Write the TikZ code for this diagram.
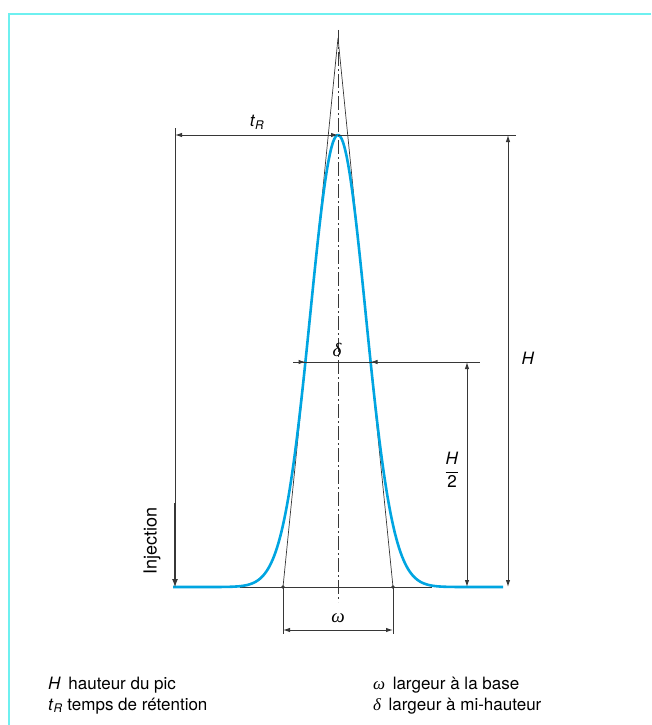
\documentclass[tikz,border=0pt]{standalone}
\usepackage{fontspec}
\setmainfont{TeX Gyre Heros}
\newfontfamily\greekfont{Liberation Serif}
\usetikzlibrary{arrows.meta}
\definecolor{peakblue}{RGB}{0,165,225}
\definecolor{framecyan}{RGB}{110,240,240}
\definecolor{dimgray}{RGB}{55,55,55}
\newcommand{\gsym}[1]{{\greekfont\itshape #1}}

\begin{document}
\begin{tikzpicture}[
        x=1pt, y=-1pt,
        % dimension lines and their tips
        dimline/.style={draw=dimgray, line width=1pt},
        dimarrow/.style={dimline, -{Latex[length=7pt,width=4.5pt]}},
        dimboth/.style={dimline, {Latex[length=7pt,width=4.5pt]}-{Latex[length=7pt,width=4.5pt]}},
        axisline/.style={draw=dimgray, line width=0.7pt, dash pattern=on 14pt off 3pt on 2pt off 3pt},
        peak/.style={draw=peakblue, line width=2.6pt, line join=round},
        lbl/.style={font=\fontsize{17}{19}\selectfont, inner sep=1pt},
    ]
  \useasboundingbox (0,0) rectangle (651,725);
  \draw[framecyan, line width=2pt] (9,725) -- (9,14) -- (651,14);

  % key points of the peak
  \coordinate (apex) at (338,38);
  \coordinate (top) at (338,135);
  \coordinate (bl) at (283,587);
  \coordinate (br) at (393,587);
  \coordinate (inj) at (175,135);

  % symmetry axis and tangents
  \draw[axisline] (338,30) -- (338,602);
  \draw[dimline, line width=0.7pt] (bl) -- (apex) -- (br);
  \draw[dimline] (240,587) -- (432,587);
  \fill[dimgray] (bl) circle (1.8) (br) circle (1.8);

  % the peak
  \draw[peak] plot[domain=173:503, samples=220, smooth]
    (\x, {587-452*exp(-((\x-338)/27.6)^2/2)});

  % retention time
  \draw[dimline] (175,128) -- (175,503);
  \draw[draw=dimgray, line width=1.8pt, -{Latex[length=9pt,width=6pt]}] (175,503) -- (175,588);
  \node[rotate=90, font=\fontsize{18}{20}\selectfont, inner sep=0pt] (injlbl) at (152,541) {Injection};
  \draw[dimboth] (inj) -- (top);
  \draw[dimline] (top) -- (516,135);
  \node[lbl] (tRlbl) at (257,122) {\textit{t}\textsubscript{\textit{R}}};

  % height
  \draw[dimboth] (508,135) -- (508,587);
  \node[lbl] (Hlbl) at (528,358) {\textit{H}};

  % half height
  \coordinate (hl) at (305.5,362);
  \coordinate (hr) at (370.5,362);
  \draw[dimline] (293,362) -- (480,362);
  \draw[dimarrow] (293,362) -- (hl);
  \draw[dimarrow] (400,362) -- (hr);
  \node[lbl, font=\fontsize{19}{21}\selectfont] (dlbl) at (337,350) {\gsym{δ}};
  \draw[dimboth] (467,362) -- (467,587);
  \node[lbl] (H2lbl) at (452,470) {$\displaystyle\frac{\mbox{\textit{H}}}{\mbox{2}}$};

  % width at base
  \draw[dimline] (bl) -- (283,634);
  \draw[dimline] (br) -- (393,634);
  \draw[dimboth] (283,630) -- (393,630);
  \node[lbl, font=\fontsize{19}{21}\selectfont] (wlbl) at (338,618) {\gsym{ω}};

  % legend
  \node[lbl, anchor=base west] (legH) at (47,689) {\textit{H}\, hauteur du pic};
  \node[lbl, anchor=base west] (legt) at (47,710) {\textit{t}\textsubscript{\textit{R}} temps de rétention};
  \node[lbl, anchor=base west] (legw) at (372,689) {\gsym{ω}\, largeur à la base};
  \node[lbl, anchor=base west] (legd) at (372,710) {\gsym{δ}\, largeur à mi-hauteur};
\end{tikzpicture}
\end{document}
